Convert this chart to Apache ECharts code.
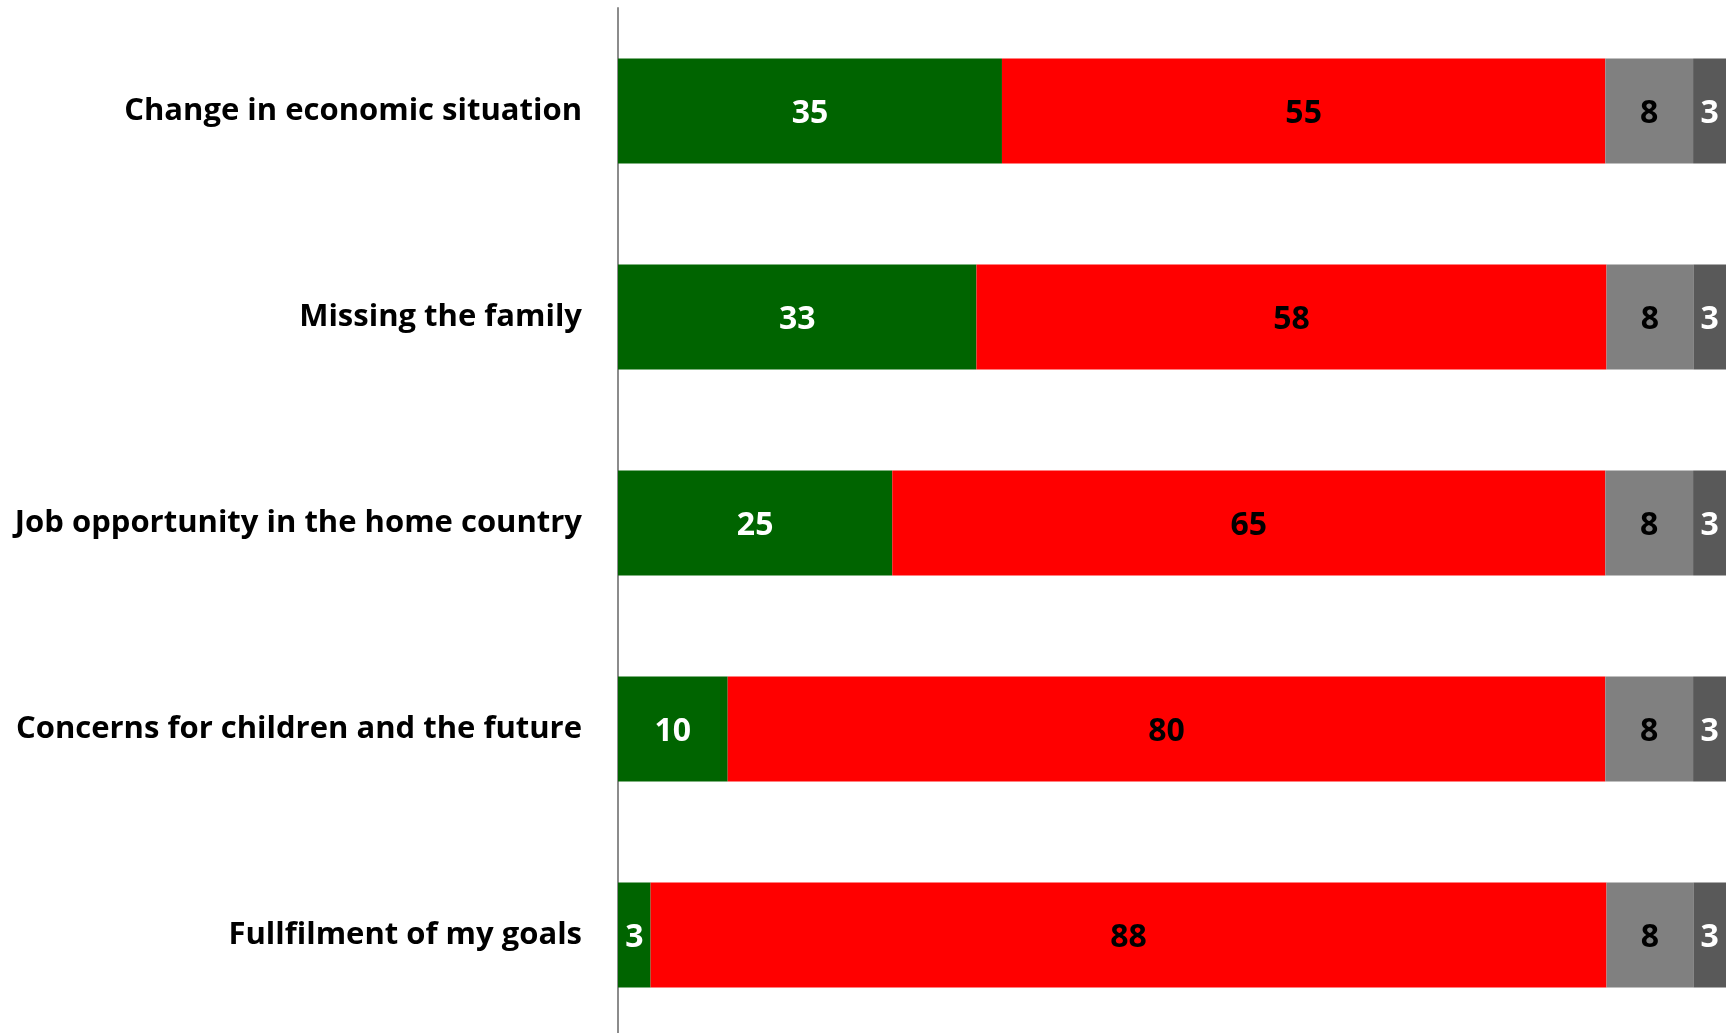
<!DOCTYPE html>
<html>
<head>
<meta charset="utf-8">
<script src="https://cdn.jsdelivr.net/npm/echarts@6/dist/echarts.min.js"></script>
<style>
html,body{margin:0;padding:0;background:#fff;overflow:hidden;}
#chart{width:1733px;height:1040px;}
</style>
</head>
<body>
<div id="chart"></div>
<script>
const categories = [
  'Change in economic situation',
  'Missing the family',
  'Job opportunity in the home country',
  'Concerns for children and the future',
  'Fullfilment of my goals'
];
const seriesNames = ['Green', 'Red', 'Gray', 'Dark gray'];
const greenValues = [35, 33, 25, 10, 3];
const redValues = [55, 58, 65, 80, 88];
const grayValues = [8, 8, 8, 8, 8];
const darkValues = [3, 3, 3, 3, 3];

const colors = ['#006400', '#FF0000', '#808080', '#595959'];
const labelColors = ['#ffffff', '#000000', '#000000', '#ffffff'];
const raw = [greenValues, redValues, grayValues, darkValues];
const totals = categories.map((c, i) => raw.reduce((s, arr) => s + arr[i], 0));

const series = raw.map((arr, k) => ({
  name: seriesNames[k],
  type: 'bar',
  stack: 'total',
  barWidth: '51%',
  itemStyle: { color: colors[k] },
  label: {
    show: true,
    position: 'inside',
    offset: [0, 3],
    color: labelColors[k],
    fontFamily: 'Open Sans',
    fontWeight: 'bold',
    fontSize: 32,
    formatter: p => String(arr[p.dataIndex])
  },
  data: arr.map((v, i) => v / totals[i] * 100)
}));

const chart = echarts.init(document.getElementById('chart'));
chart.setOption({
  animation: false,
  grid: { left: 618, right: 7, top: 8, height: 1030, containLabel: false },
  xAxis: {
    type: 'value', min: 0, max: 100,
    show: false
  },
  yAxis: {
    type: 'category',
    inverse: true,
    data: categories,
    axisLine: { show: true, lineStyle: { color: '#8c8c8c', width: 2 } },
    axisTick: { show: false },
    axisLabel: {
      margin: 36,
      color: '#000',
      fontFamily: 'Open Sans',
      fontWeight: 'bold',
      fontSize: 31,
      padding: [5, 0, 0, 0]
    }
  },
  series: series
});
</script>
</body>
</html>
